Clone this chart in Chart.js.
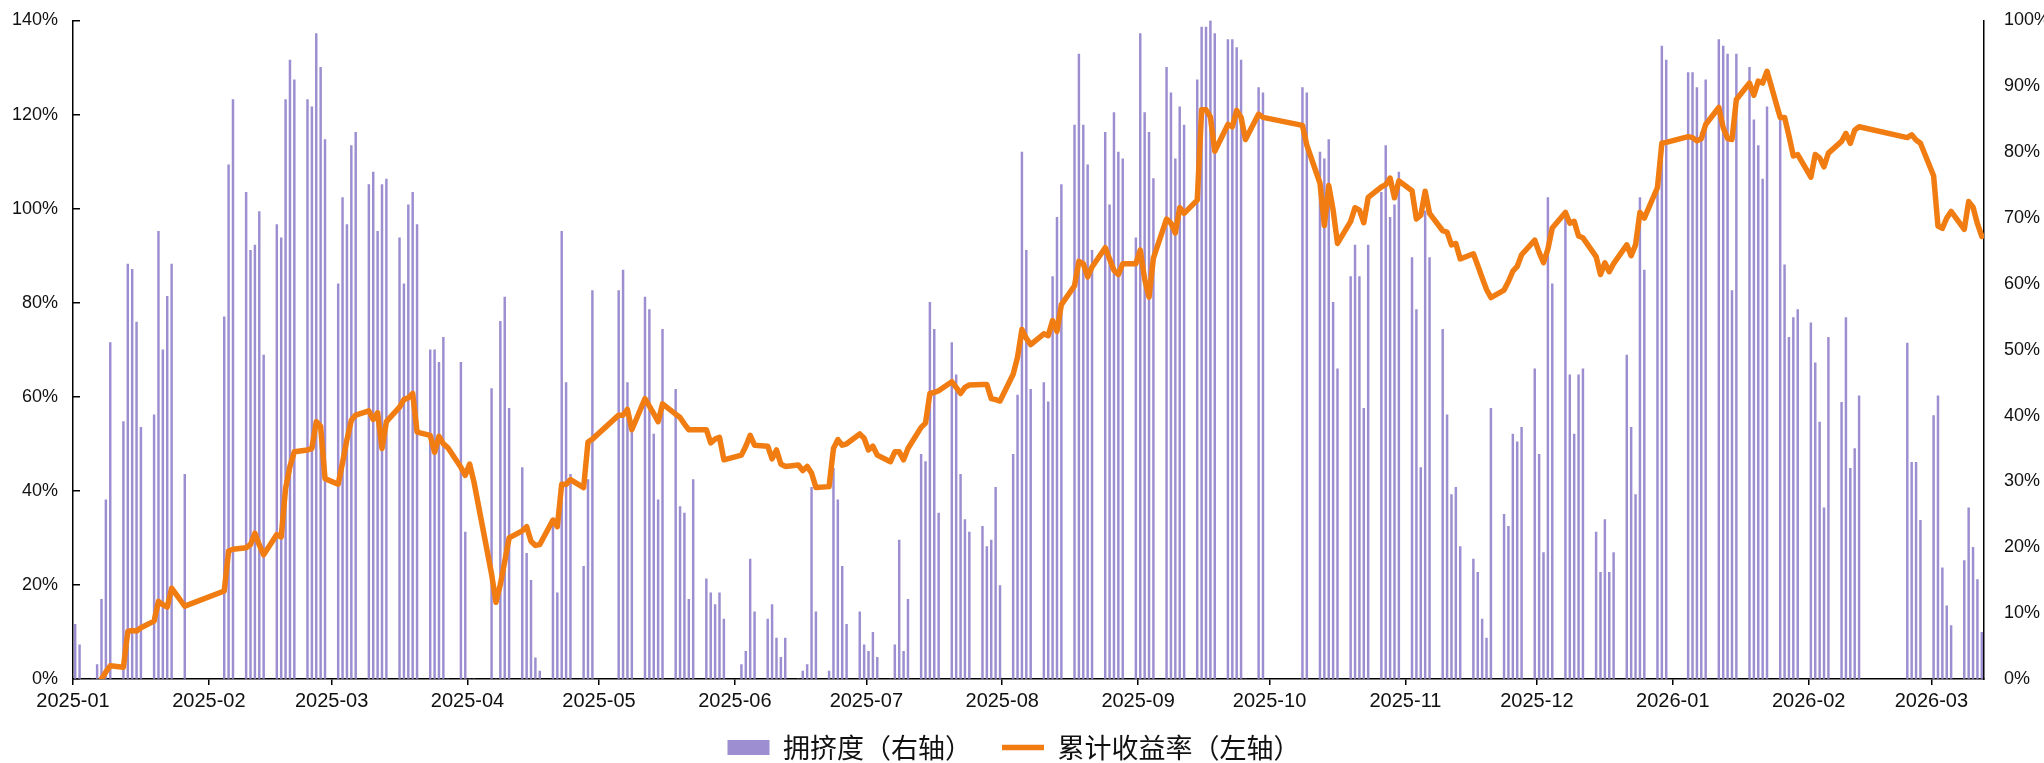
<!DOCTYPE html>
<html>
<head>
<meta charset="utf-8">
<script src="https://cdn.jsdelivr.net/npm/chart.js@4.4.1/dist/chart.umd.min.js"></script>
<style>
html,body{margin:0;padding:0;background:#fff;overflow:hidden;}
#wrap{width:2044px;height:763px;position:relative;}
</style>
</head>
<body>
<div id="wrap"><canvas id="c"></canvas></div>
<script>
// ---- trading dates (one line per month) ----
const dates = [
  "2025-01-02","2025-01-03","2025-01-06","2025-01-07","2025-01-08","2025-01-09","2025-01-10","2025-01-13","2025-01-14","2025-01-15","2025-01-16","2025-01-17","2025-01-20","2025-01-21","2025-01-22","2025-01-23","2025-01-24","2025-01-27",
  "2025-02-05","2025-02-06","2025-02-07","2025-02-10","2025-02-11","2025-02-12","2025-02-13","2025-02-14","2025-02-17","2025-02-18","2025-02-19","2025-02-20","2025-02-21","2025-02-24","2025-02-25","2025-02-26","2025-02-27","2025-02-28",
  "2025-03-03","2025-03-04","2025-03-05","2025-03-06","2025-03-07","2025-03-10","2025-03-11","2025-03-12","2025-03-13","2025-03-14","2025-03-17","2025-03-18","2025-03-19","2025-03-20","2025-03-21","2025-03-24","2025-03-25","2025-03-26","2025-03-27","2025-03-28","2025-03-31",
  "2025-04-01","2025-04-02","2025-04-03","2025-04-07","2025-04-08","2025-04-09","2025-04-10","2025-04-11","2025-04-14","2025-04-15","2025-04-16","2025-04-17","2025-04-18","2025-04-21","2025-04-22","2025-04-23","2025-04-24","2025-04-25","2025-04-28","2025-04-29","2025-04-30",
  "2025-05-06","2025-05-07","2025-05-08","2025-05-09","2025-05-12","2025-05-13","2025-05-14","2025-05-15","2025-05-16","2025-05-19","2025-05-20","2025-05-21","2025-05-22","2025-05-23","2025-05-26","2025-05-27","2025-05-28","2025-05-29","2025-05-30",
  "2025-06-03","2025-06-04","2025-06-05","2025-06-06","2025-06-09","2025-06-10","2025-06-11","2025-06-12","2025-06-13","2025-06-16","2025-06-17","2025-06-18","2025-06-19","2025-06-20","2025-06-23","2025-06-24","2025-06-25","2025-06-26","2025-06-27","2025-06-30",
  "2025-07-01","2025-07-02","2025-07-03","2025-07-04","2025-07-07","2025-07-08","2025-07-09","2025-07-10","2025-07-11","2025-07-14","2025-07-15","2025-07-16","2025-07-17","2025-07-18","2025-07-21","2025-07-22","2025-07-23","2025-07-24","2025-07-25","2025-07-28","2025-07-29","2025-07-30","2025-07-31",
  "2025-08-01","2025-08-04","2025-08-05","2025-08-06","2025-08-07","2025-08-08","2025-08-11","2025-08-12","2025-08-13","2025-08-14","2025-08-15","2025-08-18","2025-08-19","2025-08-20","2025-08-21","2025-08-22","2025-08-25","2025-08-26","2025-08-27","2025-08-28","2025-08-29",
  "2025-09-01","2025-09-02","2025-09-03","2025-09-04","2025-09-05","2025-09-08","2025-09-09","2025-09-10","2025-09-11","2025-09-12","2025-09-15","2025-09-16","2025-09-17","2025-09-18","2025-09-19","2025-09-22","2025-09-23","2025-09-24","2025-09-25","2025-09-26","2025-09-29","2025-09-30",
  "2025-10-09","2025-10-10","2025-10-13","2025-10-14","2025-10-15","2025-10-16","2025-10-17","2025-10-20","2025-10-21","2025-10-22","2025-10-23","2025-10-24","2025-10-27","2025-10-28","2025-10-29","2025-10-30","2025-10-31",
  "2025-11-03","2025-11-04","2025-11-05","2025-11-06","2025-11-07","2025-11-10","2025-11-11","2025-11-12","2025-11-13","2025-11-14","2025-11-17","2025-11-18","2025-11-19","2025-11-20","2025-11-21","2025-11-24","2025-11-25","2025-11-26","2025-11-27","2025-11-28",
  "2025-12-01","2025-12-02","2025-12-03","2025-12-04","2025-12-05","2025-12-08","2025-12-09","2025-12-10","2025-12-11","2025-12-12","2025-12-15","2025-12-16","2025-12-17","2025-12-18","2025-12-19","2025-12-22","2025-12-23","2025-12-24","2025-12-25","2025-12-26","2025-12-29","2025-12-30","2025-12-31",
  "2026-01-05","2026-01-06","2026-01-07","2026-01-08","2026-01-09","2026-01-12","2026-01-13","2026-01-14","2026-01-15","2026-01-16","2026-01-19","2026-01-20","2026-01-21","2026-01-22","2026-01-23","2026-01-26","2026-01-27","2026-01-28","2026-01-29","2026-01-30",
  "2026-02-02","2026-02-03","2026-02-04","2026-02-05","2026-02-06","2026-02-09","2026-02-10","2026-02-11","2026-02-12","2026-02-13","2026-02-24","2026-02-25","2026-02-26","2026-02-27",
  "2026-03-02","2026-03-03","2026-03-04","2026-03-05","2026-03-06","2026-03-09","2026-03-10","2026-03-11","2026-03-12","2026-03-13"
];

// 拥挤度（右轴）, %
const crowding = [
  8.3,5.2,0,2.2,12.1,27.2,51.1,39.1,63,62.2,54.2,38.2,40.1,68,50,58.1,63,31.1,
  55,78.1,88,73.9,65.1,65.9,71,49.2,69,67,88,94,91,88,86.9,98,92.9,81.9,
  60,73.1,69,81,83,75.1,77,68,75.1,75.9,67,60,72,73.9,69,50,50,48.1,51.9,0,48.1,
  22.3,0,0,44.1,0,54.3,58,41.1,32.1,19.1,15,3.2,1.2,24.2,13.1,68,45,31.1,17.1,30.3,59,
  59,62.1,45,37.8,58,56.1,37.2,27.2,53.1,44,26.2,25.2,12.1,30.3,15.2,13.1,11.3,13.1,9.1,
  2.2,4.2,18.2,10.2,9.1,11.3,6.2,3.3,6.2,0,1.2,2.2,29.1,10.2,1.2,32,27.2,17.1,8.3,10.2,
  5.2,4.2,7.1,3.3,0,5.2,21.1,4.2,12.1,34.1,33,57.2,53.1,25.2,51.1,46.2,31.1,24.2,22.3,23.2,20.1,21.1,29.1,
  14.2,34.1,43.1,80,65.1,44,45,42.1,61.1,70.1,75.1,84.1,94.9,84.1,78.1,65.1,83,72,86,80,79,
  67,98,86,83,76,92.9,89,79,86.9,84.1,91,99,99,100,98,97.1,97.1,95.9,94,0,89.8,89,
  89.8,89,80,79,81.9,57.2,47.1,61.1,65.9,61.1,41.1,65.9,73.9,81,70.1,72,77,
  64,56.1,32.1,71.1,64,53.1,40.1,28,29.1,20.1,18.2,16.2,9.1,6.2,41.1,25,23.2,37.2,36,38.2,
  47.1,34.1,19.2,73.1,60,70.9,46.2,37.2,46.2,47.1,22.3,16.2,24.2,16.2,19.2,49.2,38.2,28,73.1,62.1,75,96.1,94,
  92.1,92.1,89.8,83,91,97.1,96.1,94.9,59,94.9,92.9,84.9,81,75.9,86.9,84.9,62.9,51.9,54.9,56.1,
  54.1,48,39,26,51.9,42,54.9,32,35,43,51,32.9,32.9,24.1,
  40,43,16.9,11.1,8.1,18,26,20,15.1,7.1
];

// 累计收益率（左轴）, %
const cumReturn = [
  null,null,null,null,0,1.5,2.8,2.5,10.1,10.3,10.2,10.9,12.3,16.5,15.8,15.3,19.3,15.5,
  18.7,27.2,27.6,27.9,28.6,31,28.5,26.4,30.7,30.2,40.5,45.2,48.3,48.7,49,54.7,53.7,42.6,
  41.4,46,50.9,55,56.1,57,55.2,56.6,49,54.7,57.8,59.4,59.8,60.7,52.5,51.8,48.2,51.6,50,49.2,45,
  43.3,45.7,41.8,22.3,16.3,20.1,25,30,31.5,32.4,29.3,28.4,28.6,33.8,32.4,41.4,41.4,42.4,40.7,50.4,51,
  56.1,56.1,57.3,53,59.6,58,56.4,54.7,58.5,56.3,55.6,54.2,53,53,53,50.2,51,51.4,46.6,
  47.6,49.5,51.8,49.7,49.5,46.8,48.7,45.7,45.2,45.5,44.3,45.2,43.8,40.7,40.9,49,50.9,49.7,50,52.1,
  51.2,48.7,49.5,47.6,46.2,48.3,48.3,46.6,49,53.5,54.4,60.7,60.9,61.3,63.2,62,60.7,62,62.5,62.6,62.6,59.6,59.4,
  59.1,64.8,68.4,74.3,72.4,71.1,73.4,73,76.2,73.9,79.6,83.6,88.8,88.3,85.5,87.6,91.7,89.3,86.9,86,88.3,
  88.3,91.2,85,81.2,89.5,97.8,96.9,94.8,100.2,99,101.8,121,121,119.5,112.2,117.9,117.4,120.9,119.4,114.7,120.1,119.4,
  117.7,113.5,105.4,96.4,104.9,99.7,92.6,97.3,100.2,99.7,97,102.4,104.6,105.1,106.5,102.3,105.9,
  103.8,97.8,98.6,103.7,99,95.3,95,92.3,92.6,89.3,90.4,87.9,85.3,82.8,81.1,82.7,84.5,86.7,87.7,90.2,
  93.3,90.7,88.5,91.4,95.9,99.2,96.9,97.3,94.2,93.8,89.8,86,88.5,86.6,88.3,92.3,90,92.3,99.2,98,104.5,113.9,114.1,
  115.3,115.1,114.4,114.9,117.9,121.5,117.2,114.9,114.7,123.2,126.7,124.1,127.1,126.7,129.2,119.4,119.4,115.5,111.2,111.5,
  106.7,111.5,110.8,108.9,111.8,114.3,116,113.9,116.7,117.4,115.1,115.7,114.6,113.9,
  107,96.3,95.8,98,99.4,95.6,101.5,100.3,96.8,94.1
];

// month tick labels on the date axis
const monthLabels = ["2025-01","2025-02","2025-03","2025-04","2025-05","2025-06","2025-07","2025-08","2025-09","2025-10","2025-11","2025-12","2026-01","2026-02","2026-03"];
const seriesNames = ["拥挤度（右轴）","累计收益率（左轴）"];

// ---- build library data ----
const BASE = Date.UTC(2025,0,1);
function dayIndex(s){ const p = s.split('-').map(Number); return Math.round((Date.UTC(p[0],p[1]-1,p[2]||1)-BASE)/86400000); }
const xs = dates.map(dayIndex);
const barData = xs.map((x,i)=>({x:x, y:crowding[i]}));
const lineData = xs.map((x,i)=>({x:x, y:cumReturn[i]}));
const tickVals = monthLabels.map(m => dayIndex(m+'-01') + 0.5);
const axisMin = dayIndex("2025-01-01") + 0.5;
const axisMax = dayIndex(dates[dates.length-1]) + 0.5;

const tickFont = {family:'"Liberation Sans", Arial, sans-serif', size:20};
const yFont = {family:'"Liberation Sans", Arial, sans-serif', size:18};

// place the legend row where the reference has it
const legendPlace = {
  id:'legendPlace',
  afterLayout(chart){
    const lg = chart.legend; if(!lg) return;
    const h = lg.height;
    lg.top = 704; lg.bottom = lg.top + h;
    lg.left -= 8; lg.right -= 8;
  }
};
const noScalePad = (s)=>{ s.paddingTop = 0; s.paddingBottom = 0; };

new Chart(document.getElementById('c'), {
  data:{
    datasets:[
      { type:'bar', label:seriesNames[0], data:barData, xAxisID:'x', yAxisID:'y1',
        backgroundColor:'#9C8ED0', borderWidth:0, barThickness:1.8, order:1, pointStyle:'rect' },
      { type:'line', label:seriesNames[1], data:lineData, xAxisID:'x', yAxisID:'y',
        borderColor:'#F07C12', backgroundColor:'#F07C12', borderWidth:5.5, pointRadius:0,
        tension:0, order:0, pointStyle:'line', borderJoinStyle:'round', borderCapStyle:'round' }
    ]
  },
  options:{
    responsive:true, maintainAspectRatio:false, animation:false, devicePixelRatio:1,
    layout:{padding:{top:20.5,left:0,right:0,bottom:-23}},
    plugins:{
      legend:{ position:'bottom',
        labels:{ usePointStyle:true, pointStyleWidth:42, boxHeight:15, padding:30, color:'#111',
          font:{family:'"Noto Sans CJK SC", sans-serif', size:27},
          sort:(a,b)=>a.datasetIndex-b.datasetIndex } },
      tooltip:{enabled:false}
    },
    scales:{
      x:{ type:'linear', position:'bottom', min:axisMin, max:axisMax, offset:false,
        afterBuildTicks:(s)=>{ s.ticks = tickVals.map(v=>({value:v})); },
        afterFit:(s)=>{ s.height = 40; s.paddingLeft = 0; s.paddingRight = 0; },
        ticks:{ autoSkip:false, maxRotation:0, minRotation:0, padding:4, color:'#111', font:tickFont,
          callback:(v,i)=>monthLabels[i] },
        grid:{ offset:false, drawOnChartArea:false, drawTicks:true, tickLength:6, color:'#000', lineWidth:1.5 },
        border:{ display:true, color:'#000', width:1.5 } },
      y:{ position:'left', min:0, max:140,
        afterFit:(s)=>{ s.width = 73; noScalePad(s); },
        ticks:{ stepSize:20, padding:22, color:'#111', font:yFont, callback:(v)=>v+'%' },
        grid:{ drawOnChartArea:false, drawTicks:true, tickLength:-7, color:'#000', lineWidth:1.5 },
        border:{ display:true, color:'#000', width:1.5 } },
      y1:{ position:'right', min:0, max:100,
        afterFit:(s)=>{ s.width = 60; noScalePad(s); },
        ticks:{ stepSize:10, padding:20, color:'#111', font:yFont, callback:(v)=>v+'%' },
        grid:{ drawOnChartArea:false, drawTicks:false },
        border:{ display:true, color:'#000', width:1.5 } }
    }
  },
  plugins:[legendPlace]
});
</script>
</body>
</html>
